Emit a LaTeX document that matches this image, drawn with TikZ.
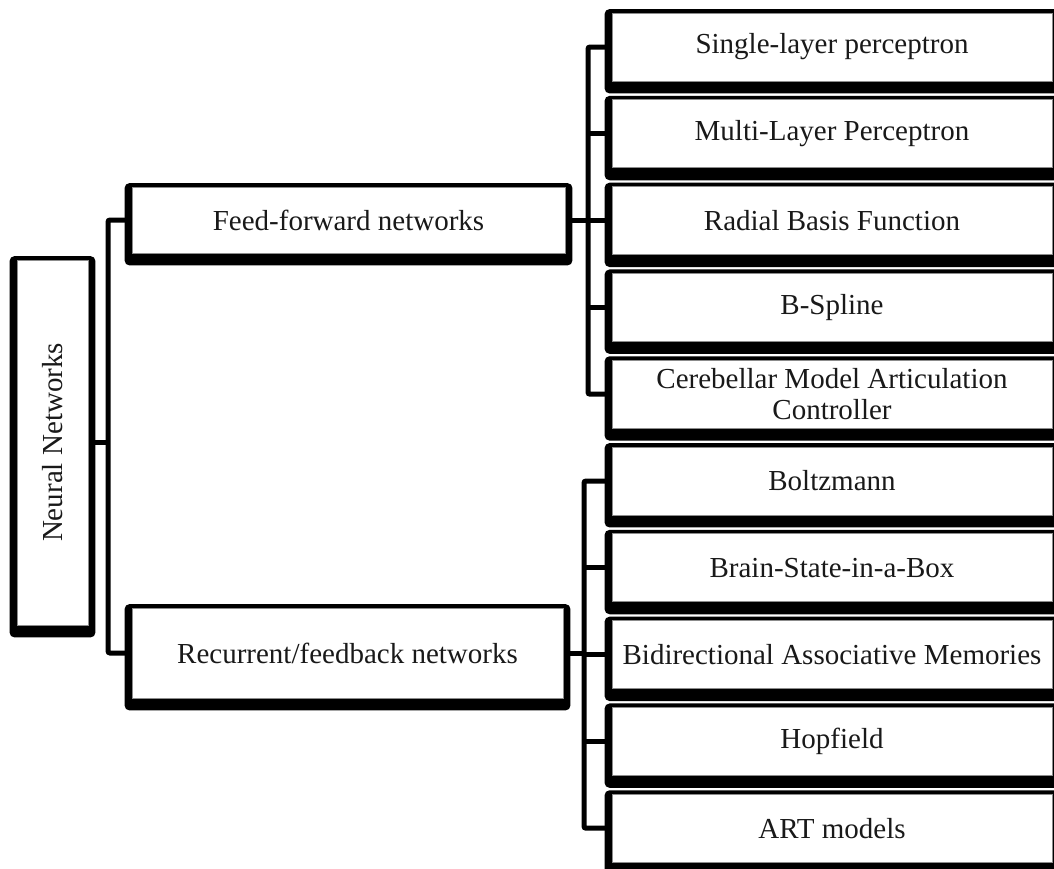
\documentclass[tikz,border=0pt]{standalone}
\usepackage{fontspec}
\setmainfont{Liberation Serif}
\usetikzlibrary{backgrounds}
\newcommand{\cardfont}{\fontsize{29}{31}\selectfont}
\tikzset{
  card/.style={draw=black!45, line width=0.9pt, fill=white, inner sep=0pt,
    align=center, font=\cardfont, text=black!90},
  leaf/.style={card, minimum width=440pt, minimum height=68pt},
  link/.style={line width=5pt, black, rounded corners=2pt},
  frame/.style={fill=black, rounded corners=5pt}
}
% heavy black frame behind a card: thin on top, heavy underneath
\newcommand{\cardframe}[1]{%
  \fill[frame] ([xshift=-7pt,yshift=3.5pt]#1.north west) rectangle ([xshift=7pt,yshift=-12pt]#1.south east);}
\begin{document}
\begin{tikzpicture}[x=1pt,y=-1pt]
\useasboundingbox (0,0) rectangle (1054,868);
\clip (0,0) rectangle (1054,868);

% root
\node[card, minimum width=71pt, minimum height=365pt] (nn) at (52.5,442.5) {};
\node[rotate=90, font=\cardfont, text=black!90] (nnlabel) at (nn.center) {Neural Networks};

% two families
\node[card, minimum width=433pt, minimum height=66pt] (ff) at (348.5,220) {Feed-forward networks};
\node[card, minimum width=431pt, minimum height=90pt] (rec) at (347.5,653) {Recurrent/feedback networks};

% feed-forward models
\node[leaf] (s1) at (832, 47.0) {Single-layer perceptron};
\node[leaf] (s2) at (832,133.8) {Multi-Layer Perceptron};
\node[leaf] (s3) at (832,220.6) {Radial Basis Function};
\node[leaf] (s4) at (832,307.4) {B-Spline};
\node[leaf] (s5) at (832,394.2) {Cerebellar Model Articulation\\Controller};

% recurrent models
\node[leaf] (r1) at (832,481.0) {Boltzmann};
\node[leaf] (r2) at (832,567.8) {Brain-State-in-a-Box};
\node[leaf] (r3) at (832,654.6) {Bidirectional Associative Memories};
\node[leaf] (r4) at (832,741.4) {Hopfield};
\node[leaf] (r5) at (832,828.2) {ART models};

\coordinate (trunk) at (108,442.5);
\coordinate (ffspine) at (588,220);
\coordinate (recspine) at (584,653);

\begin{scope}[on background layer]
  \foreach \n in {nn,ff,rec,s1,s2,s3,s4,s5,r1,r2,r3,r4,r5} {\cardframe{\n}}
  % root to families
  \draw[link] (nn.east) -- (nn.east -| trunk);
  \draw[link] (ff.west) -| (trunk) |- (rec.west);
  % feed-forward branch
  \draw[link] (s1.west) -| (ffspine) |- (s5.west);
  \draw[link] (ff.east) -- (ffspine);
  \foreach \n in {s2,s3,s4} {\draw[link] (\n.west) -- (\n.west -| ffspine);}
  % recurrent branch
  \draw[link] (r1.west) -| (recspine) |- (r5.west);
  \draw[link] (rec.east) -- (recspine);
  \foreach \n in {r2,r3,r4} {\draw[link] (\n.west) -- (\n.west -| recspine);}
\end{scope}
\end{tikzpicture}
\end{document}
